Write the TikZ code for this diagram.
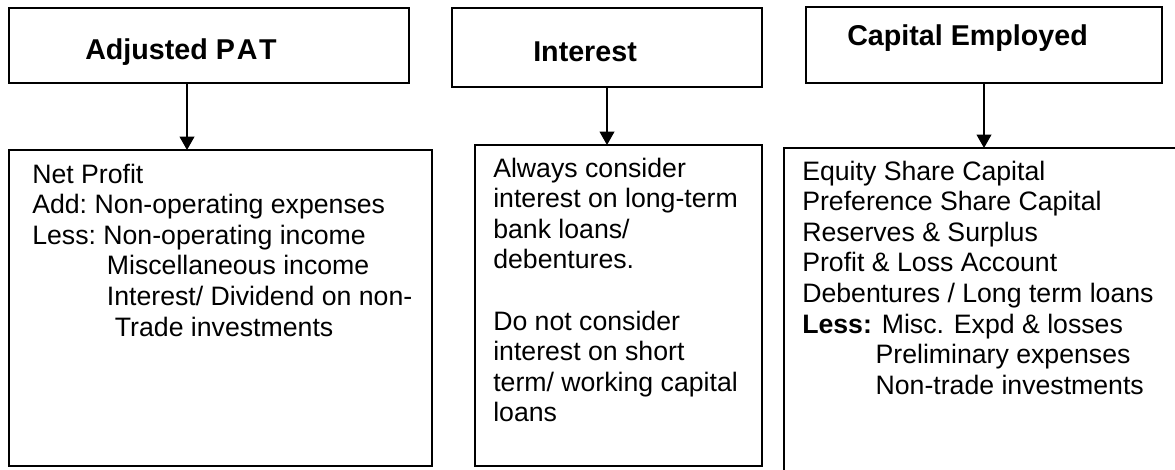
\documentclass[tikz,border=0pt]{standalone}
\usepackage{fontspec}
\setmainfont{Liberation Sans}
\usetikzlibrary{arrows.meta}
\tikzset{
  box/.style={draw=black, line width=1.2pt, anchor=north west, inner sep=0pt, outer sep=0pt},
  title/.style={anchor=base west, inner sep=0pt, font=\fontsize{21.5}{25}\selectfont\bfseries},
  body/.style={anchor=base west, inner sep=0pt, font=\fontsize{20}{22.95}\selectfont},
  arr/.style={line width=1.2pt, -{Triangle[width=11pt,length=10pt]}}
}
\newcommand{\lines}[1]{\begin{tabular}[t]{@{}l@{}}#1\end{tabular}}
\begin{document}
\begin{tikzpicture}[x=0.75pt,y=-0.75pt]
\useasboundingbox (0,0) rectangle (1175,469);
\clip (0,0) rectangle (1175,469);
% top boxes
\node[box, minimum width=300pt, minimum height=56.25pt] (t1) at (9,8) {};
\node[box, minimum width=232.5pt, minimum height=59.25pt] (t2) at (452,8) {};
\node[box, minimum width=267pt, minimum height=57pt] (t3) at (806,7) {};
% bottom boxes
\node[box, minimum width=317.25pt, minimum height=237pt] (b1) at (9,150) {};
\node[box, minimum width=215.25pt, minimum height=240.75pt] (b2) at (475,145) {};
\node[box, minimum width=375pt, minimum height=300pt] (b3) at (784,148) {};
% titles
\node[title] (h1) at (85,59) {Adjusted P\kern1.5pt A\kern1pt T};
\node[title] (h2) at (533,61) {Interest};
\node[title] (h3) at (847,45) {Capital Employed};
% arrows
\coordinate (x1) at (187,0);
\coordinate (x2) at (607,0);
\coordinate (x3) at (984,0);
\draw[arr] (x1 |- t1.south) -- (x1 |- b1.north);
\draw[arr] (x2 |- t2.south) -- (x2 |- b2.north);
\draw[arr] (x3 |- t3.south) -- (x3 |- b3.north);
% body texts
\node[body] (p1) at (32,183) {\lines{Net Profit\\
Add:\ Non-operating expenses\\
Less:\ Non-operating income\\
\hspace*{56pt}Miscellaneous income\\
\hspace*{56pt}Interest/ Dividend on non-\\
\hspace*{62pt}Trade investments}};
\node[body] (p2) at (493,177) {\lines{Always consider\\
interest on long-term\\
bank loans/\\
debentures.\\
\\
Do not consider\\
interest on short\\
term/ working capital\\
loans}};
\node[body] (p3) at (802,180) {\lines{Equity Share Capital\\
Preference Share Capital\\
Reserves \& Surplus\\
Profit \& Loss Account\\
Debentures / Long term loans\\
\textbf{Less:} Misc. Expd \& losses\\
\hspace*{55pt}Preliminary expenses\\
\hspace*{55pt}Non-trade investments}};
\end{tikzpicture}
\end{document}
